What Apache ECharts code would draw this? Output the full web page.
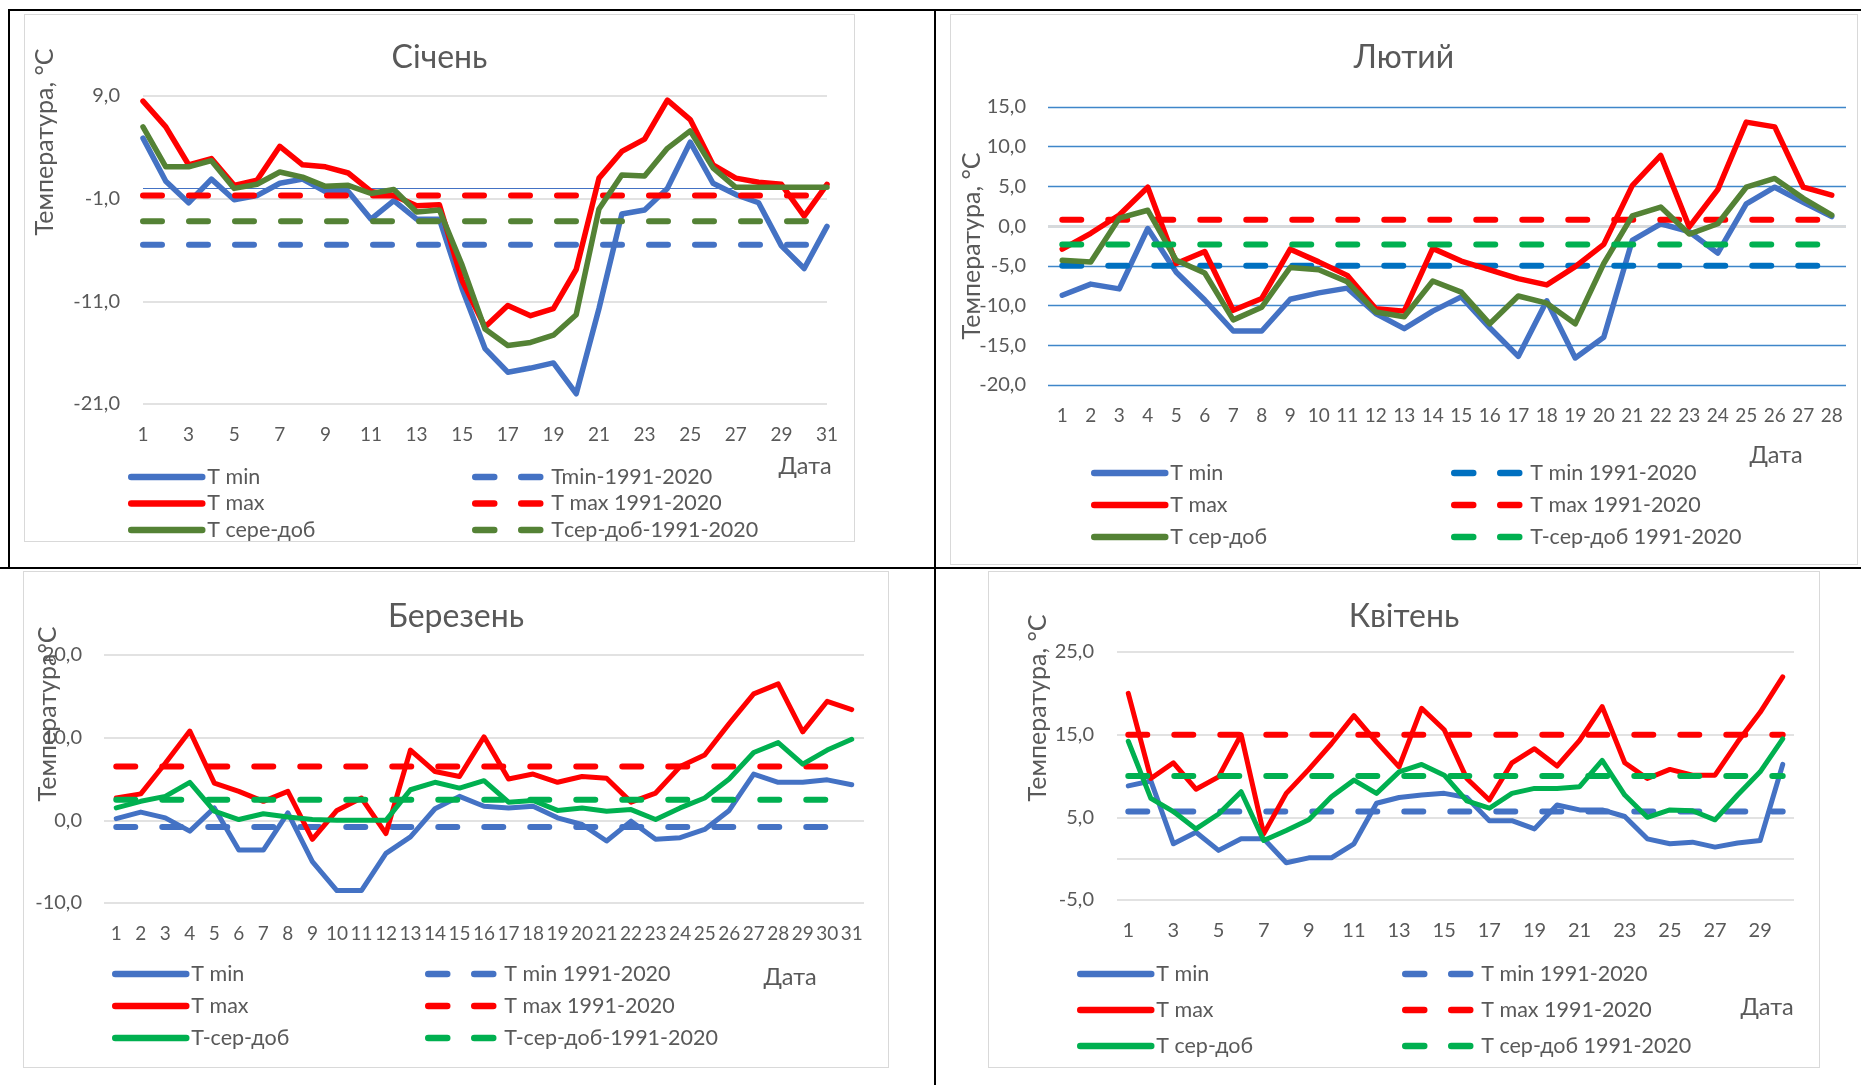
<!DOCTYPE html>
<html>
<head>
<meta charset="utf-8">
<script src="https://cdn.jsdelivr.net/npm/echarts@6/dist/echarts.min.js"></script>
<style>
  html, body { margin: 0; padding: 0; background: #fff; }
  body { width: 1861px; height: 1085px; position: relative; overflow: hidden; }
  .rule { position: absolute; background: #000; }
  .frame { position: absolute; box-sizing: border-box; border: 1px solid #d9d9d9; background: #fff; }
  .chart { position: absolute; }
</style>
</head>
<body>
<!-- table cell borders -->
<div class="rule" style="left:8px;top:9px;width:1853px;height:2px"></div>
<div class="rule" style="left:8px;top:9px;width:2px;height:559px"></div>
<div class="rule" style="left:0;top:567px;width:1861px;height:2px"></div>
<div class="rule" style="left:934px;top:9px;width:2px;height:1076px"></div>

<div class="frame" style="left:24px;top:14px;width:831px;height:528px"></div>
<div class="frame" style="left:950px;top:14px;width:908px;height:551px"></div>
<div class="frame" style="left:23px;top:571px;width:866px;height:497px"></div>
<div class="frame" style="left:988px;top:571px;width:832px;height:497px"></div>

<div class="chart" id="jan" style="left:24px;top:14px;width:831px;height:528px"></div>
<div class="chart" id="feb" style="left:950px;top:14px;width:908px;height:551px"></div>
<div class="chart" id="mar" style="left:23px;top:571px;width:866px;height:497px"></div>
<div class="chart" id="apr" style="left:988px;top:571px;width:832px;height:497px"></div>

<script>
// ---- Січень ----
const janDays = ['1','2','3','4','5','6','7','8','9','10','11','12','13','14','15','16','17','18','19','20','21','22','23','24','25','26','27','28','29','30','31'];
const janMin = [4.9, 0.7, -1.4, 0.9, -1.1, -0.7, 0.5, 0.9, -0.3, -0.3, -3.0, -1.2, -3.0, -3.0, -9.8, -15.6, -17.9, -17.5, -17.0, -20.0, -11.7, -2.5, -2.1, 0.0, 4.5, 0.5, -0.6, -1.4, -5.6, -7.8, -3.7];
const janMax = [8.5, 6.0, 2.3, 2.9, 0.3, 0.8, 4.1, 2.3, 2.1, 1.5, -0.3, -0.7, -1.7, -1.6, -9.0, -13.5, -11.4, -12.4, -11.7, -7.9, 1.0, 3.6, 4.8, 8.6, 6.7, 2.3, 1.0, 0.6, 0.4, -2.7, 0.4];
const janAvg = [6.0, 2.1, 2.1, 2.7, 0.0, 0.4, 1.6, 1.1, 0.2, 0.3, -0.5, -0.1, -2.3, -2.1, -7.5, -13.7, -15.3, -15.0, -14.3, -12.3, -2.0, 1.3, 1.2, 3.9, 5.6, 2.0, 0.1, 0.1, 0.1, 0.1, 0.1];
const janNormMin = -5.5;
const janNormMax = -0.7;
const janNormAvg = -3.2;
const janTicks = [-21, -11, -1, 9];

// ---- Лютий ----
const febDays = ['1','2','3','4','5','6','7','8','9','10','11','12','13','14','15','16','17','18','19','20','21','22','23','24','25','26','27','28'];
const febMin = [-8.7, -7.3, -7.9, -0.3, -5.8, -9.3, -13.2, -13.2, -9.2, -8.4, -7.8, -11.0, -12.9, -10.7, -8.9, -12.8, -16.4, -9.4, -16.6, -14.0, -1.8, 0.3, -0.7, -3.4, 2.8, 4.9, 3.0, 1.2];
const febMax = [-2.9, -0.9, 1.4, 4.9, -4.7, -3.2, -10.6, -9.1, -2.9, -4.5, -6.2, -10.4, -10.7, -2.8, -4.4, -5.5, -6.6, -7.4, -5.1, -2.3, 5.1, 8.9, -0.1, 4.6, 13.1, 12.5, 4.9, 3.9];
const febAvg = [-4.3, -4.5, 1.0, 2.0, -4.3, -5.9, -11.8, -10.2, -5.2, -5.5, -7.0, -10.8, -11.4, -6.9, -8.3, -12.3, -8.8, -9.7, -12.3, -4.7, 1.3, 2.4, -1.0, 0.3, 4.9, 6.0, 3.5, 1.4];
const febNormMin = -5.0;
const febNormMax = 0.8;
const febNormAvg = -2.3;

// ---- Березень ----
const marDays = janDays;
const marMin = [0.2, 1.0, 0.3, -1.3, 1.5, -3.6, -3.6, 0.9, -5.0, -8.5, -8.5, -4.0, -2.0, 1.4, 2.9, 1.7, 1.5, 1.7, 0.3, -0.5, -2.5, -0.1, -2.3, -2.1, -1.1, 1.2, 5.6, 4.6, 4.6, 4.9, 4.3];
const marMax = [2.7, 3.2, 6.9, 10.8, 4.5, 3.5, 2.3, 3.5, -2.3, 1.2, 2.7, -1.6, 8.5, 5.9, 5.3, 10.1, 5.0, 5.6, 4.6, 5.3, 5.1, 2.2, 3.3, 6.5, 7.9, 11.7, 15.3, 16.5, 10.7, 14.4, 13.4];
const marAvg = [1.5, 2.3, 2.9, 4.6, 1.1, 0.1, 0.8, 0.4, 0.1, 0.0, 0.0, 0.0, 3.7, 4.6, 3.9, 4.8, 2.2, 2.4, 1.2, 1.5, 1.1, 1.3, 0.1, 1.5, 2.7, 5.0, 8.2, 9.4, 6.8, 8.5, 9.8];
const marNormMin = -0.8;
const marNormMax = 6.5;
const marNormAvg = 2.5;

// ---- Квітень ----
const aprDays = ['1','2','3','4','5','6','7','8','9','10','11','12','13','14','15','16','17','18','19','20','21','22','23','24','25','26','27','28','29','30'];
const aprMin = [8.8, 9.4, 1.8, 3.2, 1.0, 2.4, 2.4, -0.5, 0.1, 0.1, 1.8, 6.7, 7.4, 7.7, 7.9, 7.4, 4.6, 4.6, 3.6, 6.5, 5.9, 5.9, 5.1, 2.4, 1.8, 2.0, 1.4, 1.9, 2.2, 11.4];
const aprMax = [20.0, 9.7, 11.6, 8.4, 9.9, 15.0, 3.0, 7.9, 10.8, 13.9, 17.3, 14.1, 11.1, 18.2, 15.6, 9.7, 7.1, 11.6, 13.3, 11.2, 14.3, 18.4, 11.6, 9.7, 10.8, 10.1, 10.1, 14.1, 17.7, 22.0];
const aprAvg = [14.2, 7.3, 5.7, 3.6, 5.4, 8.1, 2.2, 3.4, 4.7, 7.5, 9.5, 7.9, 10.5, 11.4, 10.1, 7.0, 6.1, 7.9, 8.5, 8.5, 8.7, 11.9, 7.7, 5.0, 5.9, 5.8, 4.7, 7.7, 10.5, 14.5];
const aprNormMin = 5.7;
const aprNormMax = 15.0;
const aprNormAvg = 10.0;
const aprTicks = [-5, 5, 15, 25];

const FONT = 'Lato, "Open Sans", "Noto Sans", sans-serif';
const TEXT = '#595959';
const BLUE = '#4472C4';
const RED = '#FF0000';
const DKGREEN = '#548235';
const GREEN = '#00B050';
const DKBLUE = '#0070C0';
const GRID = '#D9D9D9';

const fmt = v => Number(v).toFixed(1).replace('.', ',');
const flat = (days, v) => days.map(() => v);

function line(name, data, color, width, dashed) {
  return {
    name, type: 'line', data, symbol: 'none', silent: true, animation: false,
    lineStyle: { color, width, type: dashed ? [19, 27] : 'solid', cap: 'round', join: 'round' },
    itemStyle: { color }
  };
}

function build(id, c) {
  const chart = echarts.init(document.getElementById(id), null, { renderer: 'canvas' });
  const series = [
    line(c.names[0], c.min, BLUE, c.w, false),
    line(c.names[3], flat(c.days, c.normMin), c.colNormMin, 6, true),
    line(c.names[1], c.max, RED, c.w, false),
    line(c.names[4], flat(c.days, c.normMax), RED, 6, true),
    line(c.names[2], c.avg, c.colAvg, c.w, false),
    line(c.names[5], flat(c.days, c.normAvg), c.colNormAvg, 6, true)
  ];
  if (c.zeroLine) {
    series[0].markLine = {
      silent: true, symbol: 'none', z: 1, animation: false,
      label: { show: false },
      lineStyle: { color: c.zeroLine.color, width: c.zeroLine.width, type: 'solid' },
      data: [{ yAxis: 0 }]
    };
  }
  const legendBase = {
    orient: 'vertical', top: c.legendTop, itemWidth: 71, itemHeight: 14,
    itemGap: c.legendGap, padding: 0, selectedMode: false,
    lineStyle: { width: 6.5 },
    itemStyle: { opacity: 0, color: 'rgba(0,0,0,0)', borderWidth: 0 },
    textStyle: { fontFamily: FONT, fontSize: 21.5, color: TEXT }
  };
  const yLabel = { fontFamily: FONT, fontSize: 20, color: TEXT, margin: c.yMargin, formatter: fmt };
  const yAxis = {
    type: 'value', min: c.yMin, max: c.yMax,
    axisLine: { show: false },
    axisTick: { show: false },
    axisLabel: yLabel,
    splitLine: { show: true, lineStyle: { color: c.gridColor, width: c.gridWidth } }
  };
  if (c.ticks) {
    yAxis.axisLabel.customValues = c.ticks;
    yAxis.axisTick.customValues = c.ticks;
  } else {
    yAxis.interval = c.interval;
  }
  chart.setOption({
    animation: false,
    title: {
      text: c.title, left: 'center', top: c.titleTop,
      textStyle: { fontFamily: FONT, fontSize: 32, fontWeight: 'normal', color: TEXT }
    },
    grid: Object.assign({ outerBoundsMode: 'none', containLabel: false }, c.grid),
    xAxis: {
      type: 'category', data: c.days, boundaryGap: c.boundaryGap,
      axisLine: { show: false }, axisTick: { show: false },
      axisLabel: { interval: c.labelInterval, fontFamily: FONT, fontSize: c.xFont, color: TEXT, margin: c.xMargin },
      splitLine: { show: false }
    },
    yAxis,
    legend: [
      Object.assign({}, legendBase, { left: c.legendLeft[0], data: c.names.slice(0, 3) }),
      Object.assign({}, legendBase, { left: c.legendLeft[1], data: c.names.slice(3, 6) })
    ],
    graphic: [
      { type: 'text', x: c.yName[0], y: c.yName[1], rotation: Math.PI / 2, silent: true,
        style: { text: c.yNameText, fontFamily: FONT, fontSize: 25, fill: TEXT, align: 'center', verticalAlign: 'middle' } },
      { type: 'text', x: c.date[0], y: c.date[1], silent: true,
        style: { text: 'Дата', fontFamily: FONT, fontSize: 23.5, fill: TEXT, align: 'center', verticalAlign: 'middle' } }
    ],
    series
  });
}

build('jan', {
  title: 'Січень', titleTop: 23,
  days: janDays, min: janMin, max: janMax, avg: janAvg,
  normMin: janNormMin, normMax: janNormMax, normAvg: janNormAvg,
  names: ['T min', 'T max', 'T сере-доб', 'Tmin-1991-2020', 'T max 1991-2020', 'Tсер-доб-1991-2020'],
  colAvg: DKGREEN, colNormMin: BLUE, colNormAvg: DKGREEN, w: 5.5,
  grid: { left: 119, right: 28, top: 82, bottom: 138 },
  boundaryGap: false, labelInterval: 1, xFont: 19, xMargin: 21, yMargin: 23,
  yMin: -21, yMax: 9, ticks: janTicks,
  gridColor: GRID, gridWidth: 1.5,
  zeroLine: { color: BLUE, width: 1 },
  yName: [21, 128], yNameText: 'Температура, °C', date: [781, 452],
  legendLeft: [104, 448], legendTop: 452, legendGap: 4.5
});

build('feb', {
  title: 'Лютий', titleTop: 23,
  days: febDays, min: febMin, max: febMax, avg: febAvg,
  normMin: febNormMin, normMax: febNormMax, normAvg: febNormAvg,
  names: ['T min', 'T max', 'T сер-доб', 'T min 1991-2020', 'T max 1991-2020', 'T-сер-доб 1991-2020'],
  colAvg: DKGREEN, colNormMin: DKBLUE, colNormAvg: GREEN, w: 5.5,
  grid: { left: 98, right: 12, top: 93, bottom: 180 },
  boundaryGap: true, labelInterval: 0, xFont: 19, xMargin: 21, yMargin: 22,
  yMin: -20, yMax: 15, interval: 5,
  gridColor: '#3F86C9', gridWidth: 1.3,
  zeroLine: { color: GRID, width: 2.5 },
  yName: [22, 232], yNameText: 'Температура, °C', date: [826, 441],
  legendLeft: [141, 501], legendTop: 448, legendGap: 10
});

build('mar', {
  title: 'Березень', titleTop: 25,
  days: marDays, min: marMin, max: marMax, avg: marAvg,
  normMin: marNormMin, normMax: marNormMax, normAvg: marNormAvg,
  names: ['T min', 'T max', 'T-сер-доб', 'T min 1991-2020', 'T max 1991-2020', 'T-сер-доб-1991-2020'],
  colAvg: GREEN, colNormMin: BLUE, colNormAvg: GREEN, w: 5,
  grid: { left: 81, right: 25, top: 84, bottom: 165 },
  boundaryGap: true, labelInterval: 0, xFont: 19, xMargin: 21, yMargin: 22,
  yMin: -10, yMax: 20, interval: 10,
  gridColor: GRID, gridWidth: 1.5,
  zeroLine: null,
  yName: [25, 143], yNameText: 'Температура°C', date: [767, 406],
  legendLeft: [89, 402], legendTop: 392, legendGap: 10
});

build('apr', {
  title: 'Квітень', titleTop: 25,
  days: aprDays, min: aprMin, max: aprMax, avg: aprAvg,
  normMin: aprNormMin, normMax: aprNormMax, normAvg: aprNormAvg,
  names: ['T min', 'T max', 'T сер-доб', 'T min 1991-2020', 'T max 1991-2020', 'T сер-доб 1991-2020'],
  colAvg: GREEN, colNormMin: BLUE, colNormAvg: GREEN, w: 5,
  grid: { left: 129, right: 26, top: 81, bottom: 168 },
  boundaryGap: true, labelInterval: 1, xFont: 20, xMargin: 21, yMargin: 23,
  yMin: -5, yMax: 25, ticks: aprTicks,
  gridColor: GRID, gridWidth: 1.5,
  zeroLine: { color: GRID, width: 1.5 },
  yName: [50, 137], yNameText: 'Температура, °C', date: [779, 436],
  legendLeft: [89, 414], legendTop: 392, legendGap: 14
});
</script>
</body>
</html>
